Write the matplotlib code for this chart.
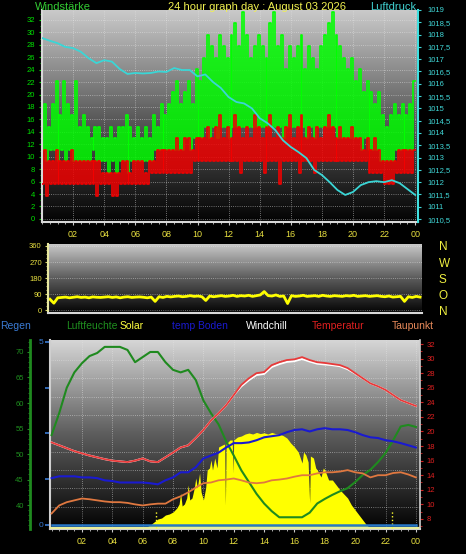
import numpy as np
import matplotlib
matplotlib.use("Agg")
import matplotlib.pyplot as plt
from matplotlib.colors import LinearSegmentedColormap
from matplotlib.ticker import MultipleLocator, FuncFormatter

plt.rcParams['font.family'] = ['Liberation Sans', 'DejaVu Sans']

W, H, DPI = 466, 554, 100

# =========================
# Data
# =========================
# wind, 15 min bins: low / high of the gust (green) and mean (red) trace, km/h
wind_hours = np.arange(96) * 0.25
gust_hi = [
    18.5, 14.8, 18.5, 22.2, 16.7, 22.2, 18.5, 16.7,
    22.2, 14.8, 16.7, 14.8, 13.0, 14.8, 14.8, 13.0,
    13.0, 14.8, 13.0, 14.8, 14.8, 16.7, 14.8, 13.0,
    14.8, 13.0, 14.8, 13.0, 16.7, 14.8, 18.5, 16.7,
    18.5, 20.4, 22.2, 18.5, 20.4, 22.2, 18.5, 24.1,
    22.2, 25.9, 29.6, 27.8, 25.9, 29.6, 27.8, 25.9,
    29.6, 31.5, 27.8, 33.3, 29.6, 25.9, 27.8, 29.6,
    27.8, 25.9, 31.5, 33.3, 27.8, 29.6, 24.1, 27.8,
    25.9, 27.8, 29.6, 24.1, 27.8, 25.9, 24.1, 27.8,
    29.6, 31.5, 33.3, 29.6, 27.8, 25.9, 24.1, 25.9,
    22.2, 24.1, 20.4, 22.2, 20.4, 18.5, 20.4, 16.7,
    14.8, 16.7, 18.5, 16.7, 18.5, 16.7, 18.5, 22.2,
]
gust_lo = [
    11.1, 9.3, 11.1, 11.1, 9.3, 11.1, 9.3, 11.1,
    9.3, 9.3, 9.3, 9.3, 9.3, 11.1, 9.3, 9.3,
    9.3, 7.4, 9.3, 7.4, 9.3, 9.3, 7.4, 9.3,
    9.3, 9.3, 9.3, 9.3, 9.3, 11.1, 11.1, 11.1,
    11.1, 11.1, 11.1, 11.1, 11.1, 13.0, 11.1, 13.0,
    13.0, 13.0, 14.8, 13.0, 14.8, 13.0, 14.8, 14.8,
    13.0, 14.8, 14.8, 14.8, 14.8, 14.8, 14.8, 14.8,
    14.8, 14.8, 14.8, 14.8, 14.8, 14.8, 13.0, 14.8,
    14.8, 14.8, 14.8, 14.8, 13.0, 14.8, 13.0, 14.8,
    14.8, 14.8, 14.8, 14.8, 13.0, 13.0, 13.0, 13.0,
    13.0, 13.0, 11.1, 13.0, 11.1, 11.1, 11.1, 9.3,
    9.3, 9.3, 9.3, 11.1, 11.1, 11.1, 11.1, 11.1,
]
mean_hi = [
    11.1, 9.3, 9.3, 11.1, 9.3, 9.3, 9.3, 11.1,
    9.3, 9.3, 9.3, 9.3, 9.3, 9.3, 9.3, 7.4,
    7.4, 7.4, 7.4, 7.4, 9.3, 9.3, 7.4, 9.3,
    9.3, 9.3, 7.4, 9.3, 9.3, 11.1, 11.1, 11.1,
    11.1, 11.1, 13.0, 11.1, 13.0, 13.0, 11.1, 13.0,
    13.0, 13.0, 14.8, 13.0, 14.8, 16.7, 13.0, 14.8,
    13.0, 16.7, 14.8, 13.0, 14.8, 13.0, 16.7, 14.8,
    13.0, 14.8, 16.7, 13.0, 14.8, 13.0, 14.8, 16.7,
    13.0, 14.8, 16.7, 13.0, 14.8, 13.0, 14.8, 13.0,
    14.8, 16.7, 14.8, 13.0, 14.8, 13.0, 13.0, 14.8,
    13.0, 13.0, 11.1, 13.0, 11.1, 13.0, 11.1, 9.3,
    9.3, 9.3, 9.3, 11.1, 11.1, 11.1, 11.1, 11.1,
]
mean_lo = [
    5.6, 3.7, 5.6, 5.6, 5.6, 5.6, 5.6, 5.6,
    5.6, 5.6, 5.6, 5.6, 5.6, 5.6, 3.7, 5.6,
    5.6, 5.6, 3.7, 3.7, 5.6, 5.6, 5.6, 5.6,
    5.6, 5.6, 5.6, 5.6, 7.4, 7.4, 7.4, 7.4,
    7.4, 7.4, 7.4, 7.4, 7.4, 7.4, 7.4, 9.3,
    9.3, 9.3, 9.3, 9.3, 9.3, 9.3, 9.3, 9.3,
    9.3, 9.3, 9.3, 7.4, 9.3, 9.3, 9.3, 9.3,
    9.3, 7.4, 9.3, 9.3, 9.3, 5.6, 9.3, 9.3,
    9.3, 9.3, 7.4, 9.3, 9.3, 9.3, 7.4, 9.3,
    9.3, 9.3, 9.3, 9.3, 9.3, 9.3, 9.3, 9.3,
    9.3, 9.3, 9.3, 9.3, 7.4, 7.4, 7.4, 7.4,
    5.6, 5.6, 5.6, 7.4, 7.4, 7.4, 7.4, 7.4,
]

# half-hourly series
half_hours = np.arange(49) * 0.5
pressure = [1017.86, 1017.75, 1017.65, 1017.5, 1017.45, 1017.3, 1017.04, 1016.84,
            1016.96, 1016.9, 1016.6, 1016.4, 1016.44, 1016.42, 1016.44, 1016.5,
            1016.48, 1016.64, 1016.56, 1016.56, 1016.3, 1016.38, 1016.07, 1015.83,
            1015.46, 1015.26, 1015.2, 1015.0, 1014.6, 1014.4, 1014.12, 1013.7,
            1013.43, 1013.22, 1012.98, 1012.5, 1012.29, 1012.0, 1011.68, 1011.48,
            1011.6, 1011.88, 1012.0, 1012.04, 1012.0, 1012.08, 1011.96, 1011.72,
            1011.48]
humidity = [53.7, 58.0, 63.0, 66.0, 67.8, 69.2, 69.8, 71.0, 71.0, 71.0, 70.4, 68.0,
            69.0, 70.0, 70.0, 68.0, 66.5, 66.0, 66.5, 64.5, 60.5, 58.0, 55.8, 52.5,
            49.7, 46.8, 44.5, 42.2, 40.3, 38.8, 37.6, 37.6, 37.6, 37.6, 38.5, 40.3,
            41.2, 42.0, 42.7, 43.3, 44.5, 45.9, 46.9, 48.4, 50.2, 52.7, 55.4, 55.7,
            55.3]
temperature = [18.5, 18.1, 17.7, 17.3, 17.0, 16.7, 16.45, 16.2, 16.0, 15.9, 15.8, 16.0,
               16.3, 15.9, 15.8, 16.45, 17.1, 17.8, 18.1, 19.1, 20.2, 21.5, 22.5, 23.6,
               25.0, 26.4, 27.3, 28.0, 28.15, 29.1, 29.5, 29.8, 29.9, 30.2, 29.8, 29.5,
               29.4, 29.25, 29.1, 28.7, 28.0, 27.3, 26.6, 26.2, 25.7, 25.0, 24.3, 23.9,
               23.5]
windchill = [18.5, 18.1, 17.7, 17.3, 17.0, 16.7, 16.45, 16.2, 16.0, 15.9, 15.8, 16.0,
             16.3, 15.9, 15.8, 16.45, 17.1, 17.8, 18.1, 19.1, 20.2, 21.5, 22.5, 23.6,
             25.0, 26.2, 27.05, 27.75, 27.9, 28.85, 29.25, 29.55, 29.65, 29.95, 29.6, 29.3,
             29.2, 29.1, 28.95, 28.55, 27.95, 27.3, 26.6, 26.2, 25.7, 25.0, 24.3, 23.9,
             23.5]
soil_temp = [13.6, 13.85, 13.85, 13.85, 13.7, 13.7, 13.6, 13.3, 13.2, 13.0, 13.0, 13.0,
             13.0, 12.9, 12.75, 13.3, 13.7, 14.4, 14.4, 15.1, 16.3, 16.7, 17.1, 17.8,
             18.4, 18.4, 18.5, 18.8, 19.2, 19.35, 19.5, 19.9, 20.2, 20.3, 20.0, 20.3,
             20.45, 20.3, 20.3, 20.2, 19.9, 19.5, 19.2, 19.1, 18.8, 18.65, 18.4, 18.1,
             17.8]
dewpoint = [8.75, 9.85, 10.3, 10.55, 10.8, 10.7, 10.55, 10.4, 10.3, 10.3, 10.2, 10.0,
            9.85, 10.0, 10.1, 10.1, 10.7, 11.1, 11.65, 12.3, 12.9, 13.0, 13.3, 13.4,
            13.55, 13.3, 13.0, 12.9, 13.0, 13.3, 13.4, 13.55, 13.8, 14.0, 14.0, 14.25,
            14.4, 14.4, 14.5, 14.7, 14.4, 14.25, 13.7, 14.0, 14.0, 14.3, 14.4, 14.1,
            13.7]
rain = [0.0] * 49

# wind direction, 15 min bins, degrees
wind_dir = [62, 40, 70, 72, 74, 70, 73, 76,
            72, 74, 70, 75, 73, 72, 74, 76,
            72, 75, 70, 74, 76, 72, 74, 75,
            73, 70, 74, 50, 76, 72, 78, 75,
            78, 80, 76, 78, 82, 78, 80, 76,
            55, 80, 76, 79, 82, 78, 80, 84,
            78, 82, 80, 84, 78, 82, 86, 105,
            82, 80, 86, 78, 80, 38, 82, 78,
            80, 84, 78, 80, 82, 78, 84, 80,
            78, 82, 80, 78, 82, 80, 84, 78,
            80, 82, 78, 80, 82, 78, 76, 80,
            74, 76, 78, 50, 76, 72, 78, 74]

# solar radiation, irregular samples
solar_hours = [0, 6.0, 6.25, 6.5, 6.75, 7.0, 7.25, 7.5, 7.75, 8.0, 8.25, 8.4, 8.5, 8.6,
               8.75, 8.9, 9.0, 9.1, 9.25, 9.4, 9.5, 9.6, 9.75, 9.85, 10.0, 10.15, 10.25,
               10.4, 10.5, 10.6, 10.75, 10.9, 11.0, 11.25, 11.4, 11.45, 11.5, 11.75, 11.9,
               11.95, 12.0, 12.25, 12.5, 12.75, 13.0, 13.25, 13.5, 13.75, 14.0, 14.25,
               14.5, 14.75, 15.0, 15.25, 15.5, 15.75, 16.0, 16.25, 16.5, 16.6, 16.75,
               16.9, 17.0, 17.05, 17.25, 17.4, 17.5, 17.75, 17.9, 18.0, 18.25, 18.5,
               18.75, 19.0, 19.25, 19.5, 19.75, 20.0, 20.25, 20.5, 20.75, 21.0, 24.0]
solar = [0, 0, 5, 15, 30, 45, 50, 65, 70, 80, 100, 120, 175, 110,
         120, 150, 215, 140, 150, 200, 250, 200, 275, 180, 140, 200, 290,
         300, 340, 290, 350, 300, 405, 415, 420, 115, 420, 440, 440,
         275, 440, 455, 460, 470, 475, 470, 478, 472, 476, 470,
         478, 472, 470, 462, 450, 425, 405, 380, 325, 380, 365,
         330, 125, 360, 350, 300, 290, 255, 300, 290, 240, 240,
         215, 190, 170, 150, 115, 90, 65, 40, 15, 0, 0]
solar_mark_hours = [6.9, 22.4]
solar_mark_vals = [90, 85]

legend_items = [("Regen", "#3a7bd5"), ("Luftfeuchte", "#1f8f1f"), ("Solar", "#ffff40"),
                ("temp Boden", "#1a1ad0"), ("Windchill", "#ffffff"),
                ("Temperatur", "#e02020"), ("Taupunkt", "#e88a5a")]
legend_x = [0, 66, 120, 172, 246, 312, 392]

# =========================
# Helpers
# =========================
def box(l, t, r, b):
    return [l / W, 1 - b / H, (r - l) / W, (b - t) / H]


def gradient(ax, top):
    cmap = LinearSegmentedColormap.from_list("bg", ["#030303", "#5c5c5c", top])
    ax.imshow(np.linspace(0, 1, 256).reshape(-1, 1), cmap=cmap, origin="lower",
              aspect="auto", extent=(0, 1, 0, 1), transform=ax.transAxes,
              zorder=0, interpolation="bicubic")


def zigzag(lo, hi):
    t = np.repeat(wind_hours, 2) + np.tile([0.0, 0.125], len(wind_hours))
    v = np.column_stack([lo, hi]).ravel()
    return np.append(t, 24.0), np.append(v, hi[-1])


def hour_label(h, pos):
    return "%02d" % (int(round(h)) % 24)


grid_kw = dict(color="#e8e8e8", linestyle=(0, (1, 1.6)), linewidth=0.6, alpha=0.6)
YEL = "#e8e040"

fig = plt.figure(figsize=(W / DPI, H / DPI), dpi=DPI, facecolor="black")

# =========================
# Top: wind + pressure
# =========================
ax1 = fig.add_axes(box(42, 10, 418, 222))
gradient(ax1, "#cacaca")
tx, ty = zigzag(gust_lo, gust_hi)
ax1.plot(tx, ty, drawstyle="steps-post", color="#00ff00", lw=1.2, zorder=2)
tx, ty = zigzag(mean_lo, mean_hi)
ax1.plot(tx, ty, drawstyle="steps-post", color="#f20000", lw=1.2, zorder=3)
ax1.set_xlim(0, 24.18)
ax1.set_ylim(-0.5, 33.6)
ax1.set_xticks(range(2, 25, 2))
ax1.xaxis.set_major_formatter(FuncFormatter(hour_label))
ax1.xaxis.set_minor_locator(MultipleLocator(0.5))
ax1.set_yticks(range(0, 33, 2))
ax1.yaxis.set_minor_locator(MultipleLocator(1))
ax1.tick_params(axis="x", which="both", colors="#c8c8c8", labelcolor=YEL, labelsize=6.5,
                length=2.5, pad=3)
ax1.tick_params(axis="x", which="minor", length=1.5)
ax1.tick_params(axis="y", which="both", colors="#00d000", labelcolor="#00e000",
                labelsize=5.5, length=2.5, pad=2.5)
ax1.tick_params(axis="y", which="minor", length=1.5)
ax1.set_axisbelow(True)
ax1.grid(True, which="major", **grid_kw)
for s in ["left", "bottom"]:
    ax1.spines[s].set_color("#d8d8d8")
    ax1.spines[s].set_linewidth(1.5)
ax1.spines["top"].set_visible(False)
ax1.spines["right"].set_visible(False)

ax1p = ax1.twinx()
ax1p.plot(half_hours, pressure, color="#3ad6d6", lw=1.3)
ax1p.set_ylim(1010.38, 1019.0)
ax1p.set_yticks(np.arange(1010.5, 1019.01, 0.5))
ax1p.yaxis.set_major_formatter(FuncFormatter(lambda v, p: ("%g" % v).replace(".", ",")))
ax1p.tick_params(axis="y", colors="#40d8d8", labelsize=5.5, length=2.5, pad=4)
for s in ["left", "top", "bottom"]:
    ax1p.spines[s].set_visible(False)
ax1p.spines["right"].set_color("#40e0e0")
ax1p.spines["right"].set_linewidth(1.5)

fig.text(35 / W, 1 - 7 / H, "Windstärke", color="#33cc33", fontsize=8, ha="left", va="center")
fig.text(257 / W, 1 - 7 / H, "24 hour graph day : August 03 2026", color="#f0f050",
         fontsize=8, ha="center", va="center")
fig.text(416 / W, 1 - 7 / H, "Luftdruck", color="#40d0d0", fontsize=8, ha="right", va="center")

# =========================
# Middle: wind direction
# =========================
ax2 = fig.add_axes(box(48, 244, 422, 313))
gradient(ax2, "#cccccc")
ax2.plot(wind_hours + 0.125, wind_dir, color="#ffff00", lw=2.0)
ax2.set_xlim(0, 24)
ax2.set_ylim(-15, 371)
ax2.set_xticks([])
ax2.set_yticks([0, 90, 180, 270, 360])
ax2.yaxis.set_minor_locator(MultipleLocator(22.5))
ax2.tick_params(axis="y", which="both", colors="#d8d860", labelcolor="#e8e040",
                labelsize=5.5, length=2.5, pad=2)
ax2.tick_params(axis="y", which="minor", length=1.5)
ax2.set_axisbelow(True)
ax2.grid(True, axis="y", **grid_kw)
ax2.spines["left"].set_color("#e8e8a0")
ax2.spines["left"].set_linewidth(1.5)
ax2.spines["bottom"].set_color("#d8d8d8")
ax2.spines["bottom"].set_linewidth(1.5)
ax2.spines["top"].set_visible(False)
ax2.spines["right"].set_visible(False)

ax2r = ax2.twinx()
ax2r.set_ylim(-15, 371)
ax2r.set_yticks([360, 270, 180, 90, 0])
ax2r.set_yticklabels(["N", "W", "S", "O", "N"])
ax2r.tick_params(axis="y", length=0, pad=12, labelsize=8.5, labelcolor="#f0f040")
for s in ax2r.spines.values():
    s.set_visible(False)

# legend row
for (name, col), xp in zip(legend_items, legend_x):
    fig.text(xp / W, 1 - 326 / H, name, color=col, fontsize=7.5, ha="left", va="center")

# =========================
# Bottom: rain / humidity / solar / temperatures
# =========================
ax3 = fig.add_axes(box(50, 340, 420, 529))
gradient(ax3, "#d6d6d6")
ax3.set_xlim(-0.105, 24.27)
ax3.set_ylim(-0.11, 5.05)
ax3.set_xticks(range(2, 25, 2))
ax3.xaxis.set_major_formatter(FuncFormatter(hour_label))
ax3.xaxis.set_minor_locator(MultipleLocator(0.5))
ax3.set_yticks([0, 1.25, 2.5, 3.75, 5])
ax3.set_yticklabels(["0", "", "", "", "5"])
ax3.yaxis.set_minor_locator(MultipleLocator(0.5))
ax3.tick_params(axis="x", which="both", colors="#c8c8c8", labelcolor=YEL, labelsize=6.5,
                length=2.5, pad=3)
ax3.tick_params(axis="x", which="minor", length=1.5)
ax3.tick_params(axis="y", which="major", colors="#3a7bd5", labelsize=6, length=3.5,
                width=1.2, pad=1.5)
ax3.tick_params(axis="y", which="minor", length=0)
ax3.set_axisbelow(True)
ax3.grid(True, axis="x", which="major", **grid_kw)
ax3.grid(True, axis="y", which="minor", **grid_kw)
for s in ["left", "bottom"]:
    ax3.spines[s].set_color("#cfcfcf")
    ax3.spines[s].set_linewidth(1.5)
ax3.spines["top"].set_visible(False)
ax3.spines["right"].set_visible(False)

ax_s = ax3.twinx()
ax_s.fill_between(solar_hours, solar, 0, color="#ffff00", lw=0)
ax_s.axhline(0, color="#e8ee9a", lw=1.6)
ax_s.vlines(solar_mark_hours, 0, solar_mark_vals, colors="#ffff30", linestyles=":", lw=1)
ax_s.set_ylim(-5, 940)
ax_s.set_yticks([])
for s in ax_s.spines.values():
    s.set_visible(False)

ax_r = ax3.twinx()
ax_r.plot(half_hours, rain, color="#2878c8", lw=1.8)
ax_r.set_ylim(-0.11, 5.05)
ax_r.set_yticks([])
for s in ax_r.spines.values():
    s.set_visible(False)

ax_h = ax3.twinx()
ax_h.plot(half_hours, humidity, color="#1f8a1f", lw=1.5)
ax_h.set_ylim(35.3, 72.35)
ax_h.yaxis.set_ticks_position("left")
ax_h.yaxis.set_label_position("left")
ax_h.spines["left"].set_position(("outward", 14.4))
ax_h.spines["left"].set_visible(True)
ax_h.spines["left"].set_color("#1f8a1f")
ax_h.spines["left"].set_linewidth(2)
for s in ["right", "top", "bottom"]:
    ax_h.spines[s].set_visible(False)
ax_h.set_yticks(range(40, 71, 5))
ax_h.yaxis.set_minor_locator(MultipleLocator(1))
ax_h.tick_params(axis="y", which="both", colors="#1f8a1f", labelcolor="#1f8f1f",
                 labelsize=5.5, length=2.5, pad=2)
ax_h.tick_params(axis="y", which="minor", length=1.5)

ax_t = ax3.twinx()
ax_t.plot(half_hours, windchill, color="#ffffff", lw=1.4)
ax_t.plot(half_hours, soil_temp, color="#1a1ad0", lw=1.5)
ax_t.plot(half_hours, dewpoint, color="#e07840", lw=1.3)
ax_t.plot(half_hours, temperature, color="#e83a3a", lw=1.3)
ax_t.set_ylim(6.62, 32.55)
ax_t.set_yticks(range(8, 33, 2))
ax_t.yaxis.set_minor_locator(MultipleLocator(1))
ax_t.tick_params(axis="y", which="both", colors="#d02020", labelcolor="#dd2020",
                 labelsize=5.5, length=2.5, pad=2.5)
ax_t.tick_params(axis="y", which="minor", length=1.5)
for s in ["left", "top", "bottom"]:
    ax_t.spines[s].set_visible(False)
ax_t.spines["right"].set_color("#cfcfcf")
ax_t.spines["right"].set_linewidth(1.2)

fig.savefig("out.png", dpi=DPI, facecolor="black")
